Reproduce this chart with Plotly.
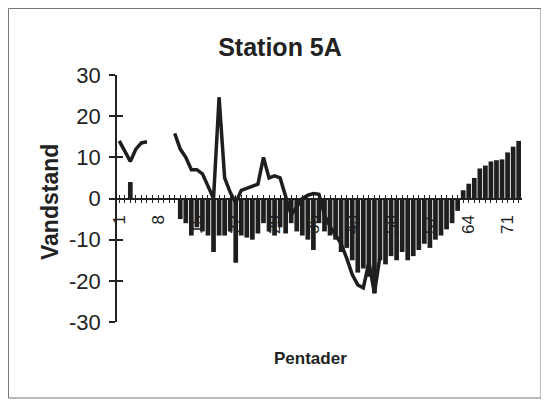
import plotly.graph_objects as go

# Pentader (categories 1..73)
pentader = list(range(1, 74))

# Column series (Vandstand bars)
bar_values = [
    0, 0, 4, 0, 0, 0, 0, 0, 0, 0,           # 1-10
    0, -5, -6, -9, -7, -8, -9, -13, -9, -9,  # 11-20
    -8, -15.6, -9, -9.5, -10, -8.5, -6, -8, -9, -7,  # 21-30
    -8.5, -6, -8, -9, -10, -12.5, -6, -8, -9, -10,   # 31-40
    -13, -12, -15, -18, -17, -19, -23, -15, -16, -14,  # 41-50
    -15, -13, -15, -14, -12.5, -11, -12, -10, -9, -7.5,  # 51-60
    -6, -3, 2, 3.6, 5, 7.3, 8, 9, 9.3, 9.5,  # 61-70
    11.2, 12.6, 14,                          # 71-73
]

# Line series (with gaps)
line_values = [
    14, 11.5, 9, 12, 13.5, 13.8, None, None, None, None,   # 1-10
    15.8, 12, 10, 7, 7, 6, 3, 0, 24.6, 5,                  # 11-20
    1.5, -1, 2, 2.5, 3, 3.5, 10, 5, 5.5, 5,                # 21-30
    0.5, -4, -2, 0, 0.8, 1.2, 1.0, -4, -6.8, -9,           # 31-40
    -11, -14.5, -18.5, -21, -21.7, -15.5, -23, -14,        # 41-48
] + [None] * 25

x_tick_vals = [1, 8, 15, 22, 29, 36, 43, 50, 57, 64, 71]
x_tick_text = [str(v) for v in x_tick_vals]
y_tick_vals = [-30, -20, -10, 0, 10, 20, 30]
y_tick_text = ["-30", "-20", "-10", "0", "10", "20", "30"]

# figure geometry (page body adds an 8px offset)
W, H = 541, 397
L, R, T, B = 109, 514, 67, 314
PW, PH = R - L, B - T


def px(x):
    return (x - L) / PW


def py(y):
    return (B - y) / PH


fig = go.Figure()
fig.add_trace(go.Bar(x=pentader, y=bar_values, marker=dict(color="#1e1e1e", line=dict(width=0)),
                     showlegend=False))
fig.add_trace(go.Scatter(x=pentader, y=line_values, mode="lines", connectgaps=False,
                         line=dict(color="#1e1e1e", width=3.5), showlegend=False))

font_family = "Liberation Sans, Arial, sans-serif"
ink = "#222222"

fig.update_layout(
    width=W, height=H,
    margin=dict(l=L, r=W - R, t=T, b=H - B, autoexpand=False),
    paper_bgcolor="white", plot_bgcolor="white",
    bargap=0.15,
    font=dict(family=font_family, color=ink),
    title=dict(text="<b>Station 5A</b>", x=272 / W, xref="container", xanchor="center",
               y=1 - 39 / H, yref="container", yanchor="middle",
               font=dict(size=25, family=font_family, color=ink)),
    xaxis=dict(
        range=[0.6, 73.6], anchor="free", position=0.5,
        tickmode="array", tickvals=x_tick_vals, ticktext=x_tick_text,
        tickangle=-90, tickfont=dict(size=17, color=ink),
        ticks="outside", ticklen=4, tickcolor=ink,
        minor=dict(ticks="outside", dtick=1, tick0=1, ticklen=4, tickcolor=ink),
        showline=True, linecolor=ink, linewidth=1.5,
        showgrid=False, zeroline=False, layer="below traces",
        ticklabelstandoff=5,
    ),
    xaxis2=dict(
        range=[0.6, 73.6], overlaying="x", anchor="free", position=0.5,
        tickmode="linear", tick0=1, dtick=1, ticks="inside", ticklen=4,
        tickcolor=ink, showticklabels=False, showgrid=False, zeroline=False,
        showline=False,
    ),
    yaxis=dict(
        range=[-30, 30], tickmode="array", tickvals=y_tick_vals, ticktext=y_tick_text,
        ticks="outside", ticklen=6,
        tickcolor=ink, tickwidth=1.5, tickfont=dict(size=22, color=ink),
        showline=True, linecolor=ink, linewidth=1.5,
        showgrid=False, zeroline=False, ticklabelstandoff=4,
    ),
    yaxis2=dict(
        range=[-30, 30], overlaying="y", anchor="x", side="left",
        tickmode="array", tickvals=y_tick_vals, ticks="inside", ticklen=6, tickwidth=1.5,
        tickcolor=ink, showticklabels=False, showgrid=False, zeroline=False,
    ),
)

# invisible trace to activate the overlay axes
fig.add_trace(go.Scatter(x=[None], y=[None], xaxis="x2", yaxis="y2", showlegend=False,
                         hoverinfo="skip"))

fig.add_annotation(text="<b>Vandstand</b>", xref="paper", yref="paper",
                   x=px(42), y=py(194), textangle=-90,
                   showarrow=False, xanchor="center", yanchor="middle",
                   font=dict(size=23, family=font_family, color=ink))
fig.add_annotation(text="<b>Pentader</b>", xref="paper", yref="paper",
                   x=px(302), y=py(350),
                   showarrow=False, xanchor="center", yanchor="middle",
                   font=dict(size=17, family=font_family, color=ink))

fig.add_shape(type="rect", xref="paper", yref="paper",
              x0=px(0.5), x1=px(533), y0=py(390), y1=py(0.5),
              line=dict(color="#777777", width=1))

fig.write_html("out.html")
